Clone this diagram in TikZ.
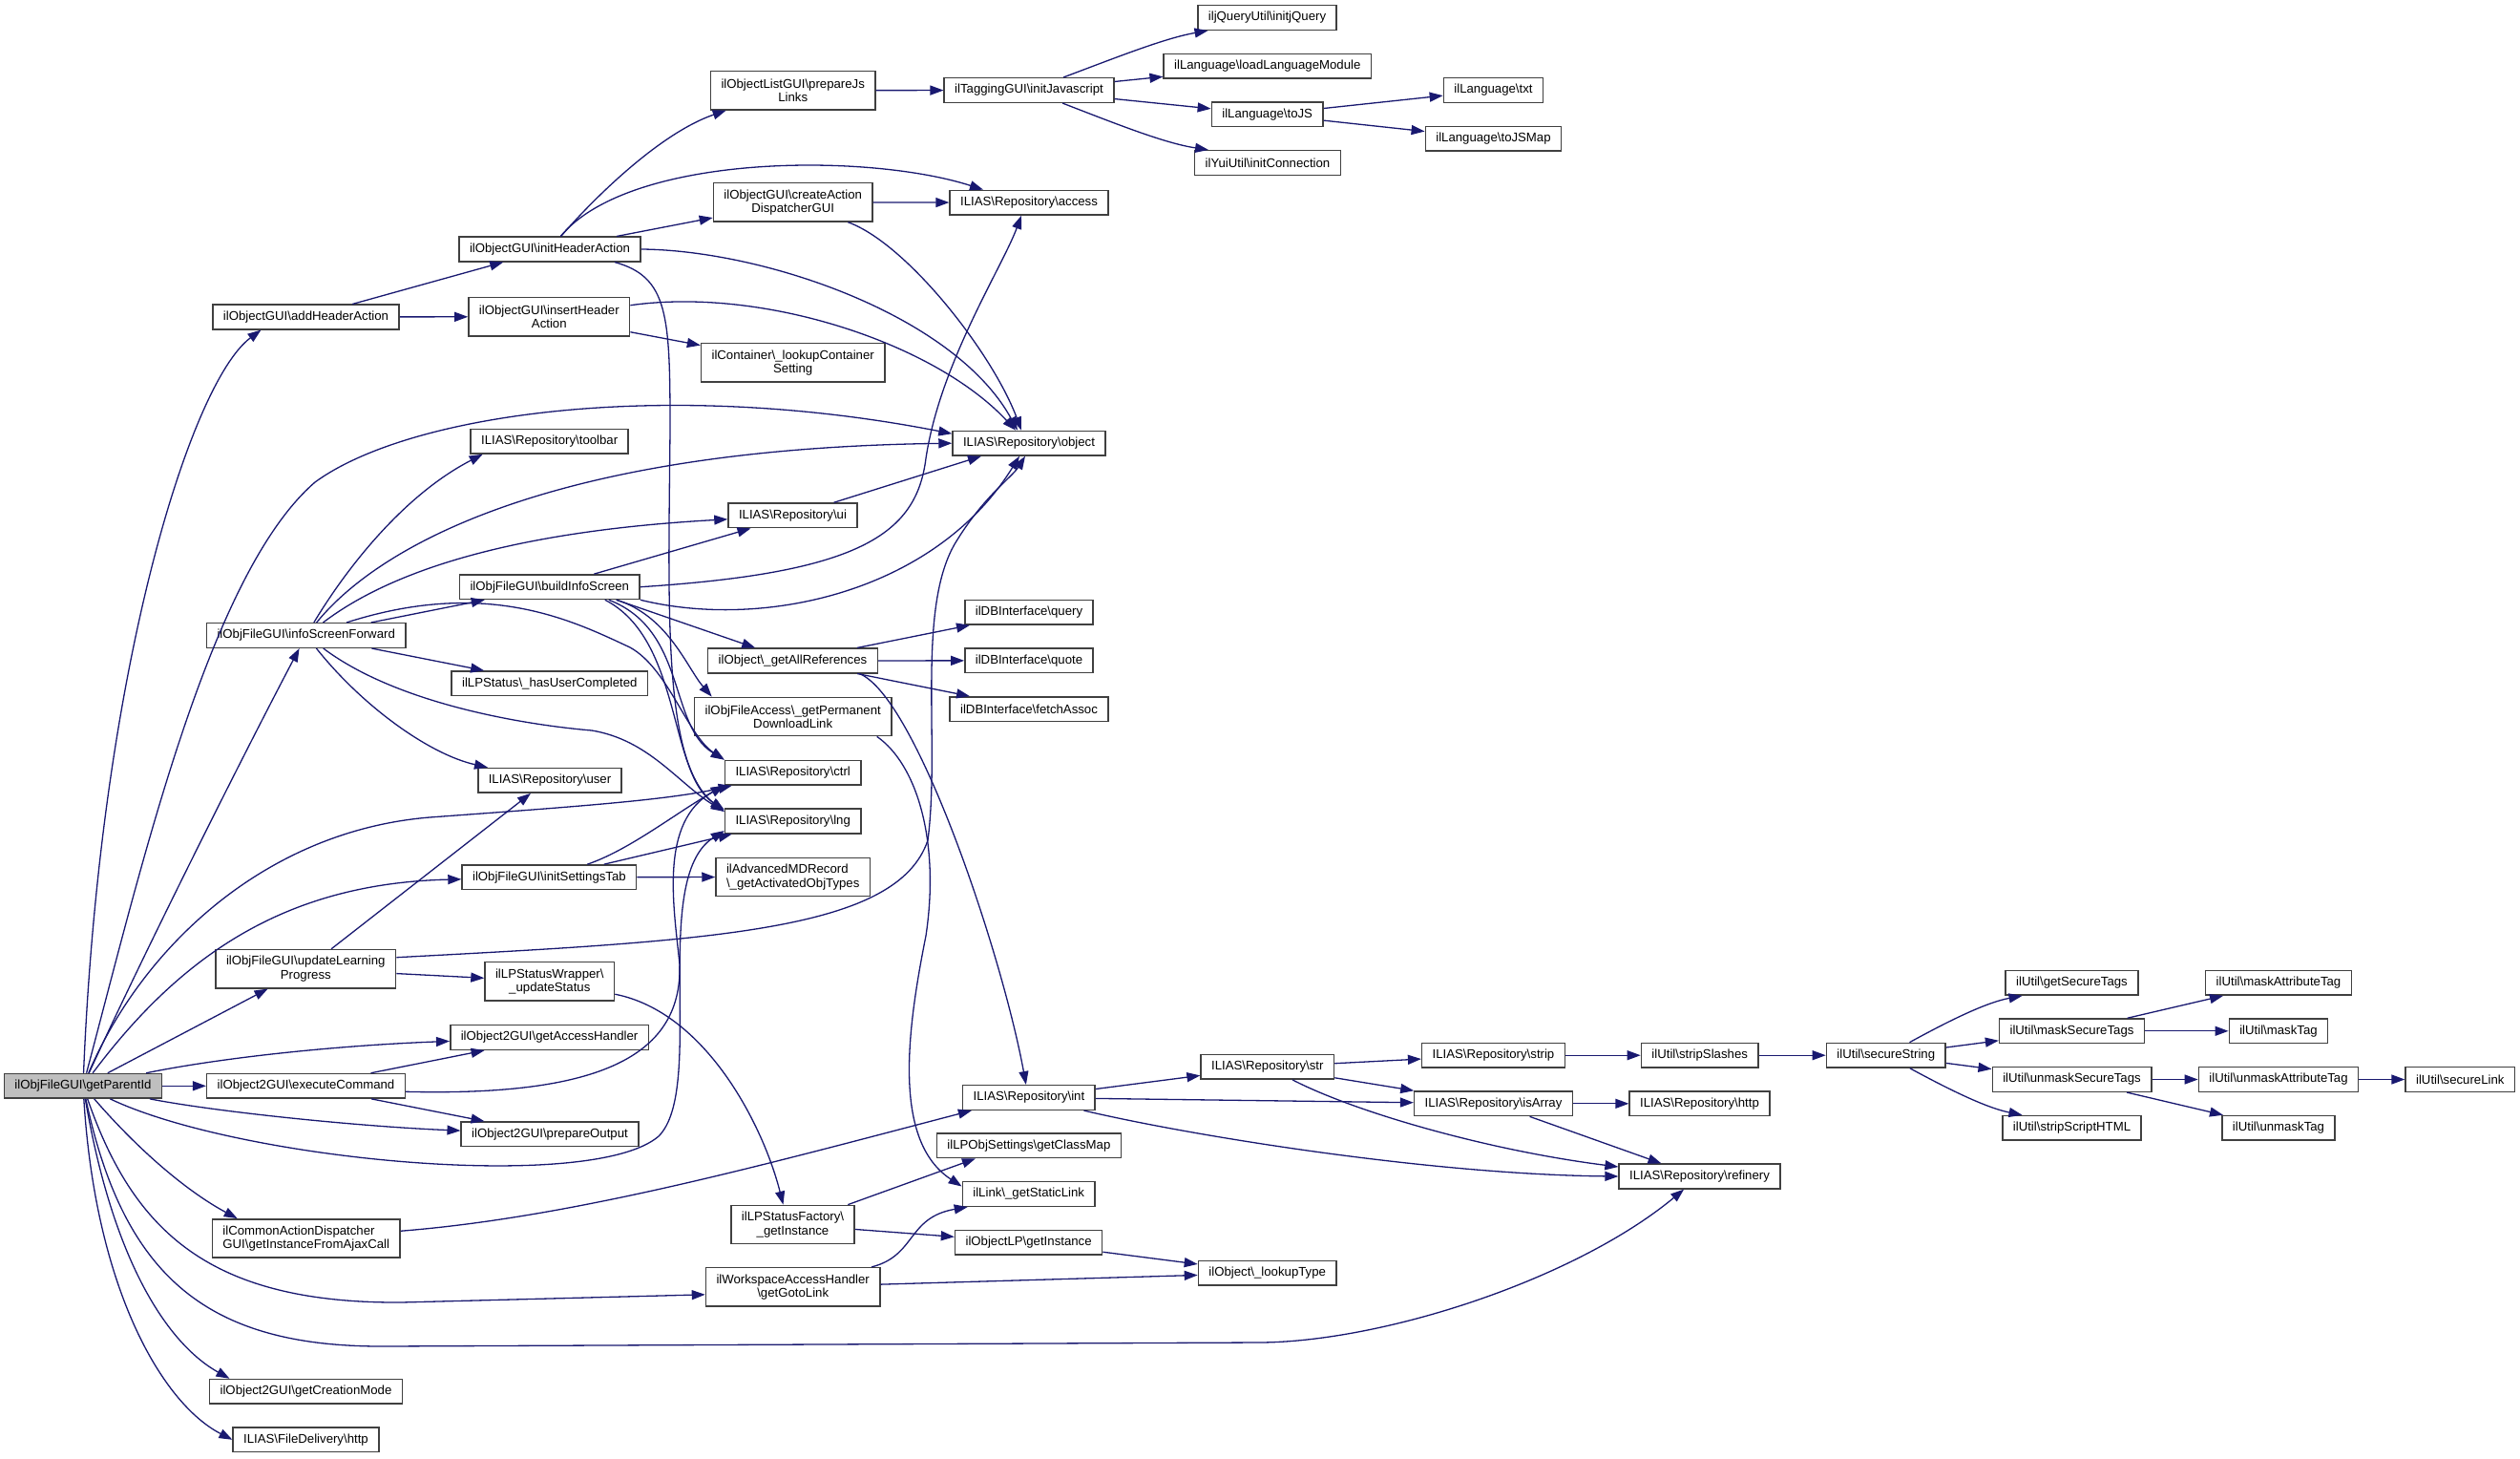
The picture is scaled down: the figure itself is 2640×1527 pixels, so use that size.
\documentclass[tikz,border=0pt]{standalone}
\usepackage{fontspec}
\setmainfont{Liberation Sans}
\usepackage{xcolor}
\usetikzlibrary{arrows.meta}
\definecolor{edgeblue}{HTML}{191970}
\newcommand{\BS}{\textbackslash}

\begin{document}
\begin{tikzpicture}[x=1pt,y=-1pt,
  fn/.style={draw=black!75,line width=1.5pt,fill=white,inner xsep=11pt,inner ysep=2pt,
    minimum height=25.6pt,align=center,font=\fontsize{13.2}{14.3}\selectfont},
  fn2/.style={fn,minimum height=40.3pt},
  root/.style={fn,fill=black!25},
  calls/.style={draw=edgeblue,line width=1.3pt,-{Triangle[length=14pt,width=10pt]}}]
		\useasboundingbox (0,0) rectangle (2640,1527);
		% ROOT
		\node[root] (pid) at (87,1137.3) {ilObjFileGUI\BS{}getParentId};
		% FIRST COLUMN
		\node[fn] (addh) at (320.5,332) {ilObjectGUI\BS{}addHeaderAction};
		\node[fn] (isf) at (320.7,665.5) {ilObjFileGUI\BS{}infoScreenForward};
		\node[fn2] (ulp) at (320.3,1014.7) {ilObjFileGUI\BS{}updateLearning\\Progress};
		\node[fn] (exc) at (320.5,1137.3) {ilObject2GUI\BS{}executeCommand};
		\node[fn2,align=left] (cad) at (320.7,1297) {ilCommonActionDispatcher\\GUI\BS{}getInstanceFromAjaxCall};
		\node[fn] (gcm) at (320.5,1457.3) {ilObject2GUI\BS{}getCreationMode};
		\node[fn] (fdh) at (320.5,1507.8) {ILIAS\BS{}FileDelivery\BS{}http};
		% SECOND COLUMN
		\node[fn] (inith) at (576,261) {ilObjectGUI\BS{}initHeaderAction};
		\node[fn2] (insh) at (575.3,331.7) {ilObjectGUI\BS{}insertHeader\\Action};
		\node[fn] (tbar) at (575.7,462.2) {ILIAS\BS{}Repository\BS{}toolbar};
		\node[fn] (bis) at (575.8,614.7) {ilObjFileGUI\BS{}buildInfoScreen};
		\node[fn] (huc) at (575.8,715.8) {ilLPStatus\BS\_hasUserCompleted};
		\node[fn] (user) at (576,817.3) {ILIAS\BS{}Repository\BS{}user};
		\node[fn] (ist) at (575.4,918.7) {ilObjFileGUI\BS{}initSettingsTab};
		\node[fn2] (ups) at (575.8,1027.8) {ilLPStatusWrapper\BS\\\_updateStatus};
		\node[fn] (gah) at (575.6,1086.5) {ilObject2GUI\BS{}getAccessHandler};
		\node[fn] (pout) at (576,1187.8) {ilObject2GUI\BS{}prepareOutput};
		% THIRD COLUMN
		\node[fn2] (pjl) at (830.7,94.7) {ilObjectListGUI\BS{}prepareJs\\Links};
		\node[fn2] (cadg) at (830.7,211.8) {ilObjectGUI\BS{}createAction\\DispatcherGUI};
		\node[fn2] (lcs) at (830.7,379.8) {ilContainer\BS\_lookupContainer\\Setting};
		\node[fn] (ui) at (830.5,539.8) {ILIAS\BS{}Repository\BS{}ui};
		\node[fn] (gar) at (830.5,692) {ilObject\BS\_getAllReferences};
		\node[fn2] (gpdl) at (830.7,750.5) {ilObjFileAccess\BS\_getPermanent\\DownloadLink};
		\node[fn] (ctrl) at (830.7,809.2) {ILIAS\BS{}Repository\BS{}ctrl};
		\node[fn] (lng) at (830.7,860) {ILIAS\BS{}Repository\BS{}lng};
		\node[fn2,align=left] (gaot) at (830.7,918.5) {ilAdvancedMDRecord\\\BS\_getActivatedObjTypes};
		\node[fn2] (lpsf) at (830.5,1282.5) {ilLPStatusFactory\BS\\\_getInstance};
		\node[fn2] (ggl) at (830.7,1347.8) {ilWorkspaceAccessHandler\\\BS{}getGotoLink};
		% FOURTH COLUMN
		\node[fn] (ijs) at (1078,94.5) {ilTaggingGUI\BS{}initJavascript};
		\node[fn] (acc) at (1078,212.2) {ILIAS\BS{}Repository\BS{}access};
		\node[fn] (obj) at (1078,464.2) {ILIAS\BS{}Repository\BS{}object};
		\node[fn] (dbq) at (1078,641.2) {ilDBInterface\BS{}query};
		\node[fn] (dbqt) at (1078,691.8) {ilDBInterface\BS{}quote};
		\node[fn] (dbfa) at (1078,742.7) {ilDBInterface\BS{}fetchAssoc};
		\node[fn] (int) at (1077.9,1149.5) {ILIAS\BS{}Repository\BS{}int};
		\node[fn] (gcmap) at (1077.9,1199.8) {ilLPObjSettings\BS{}getClassMap};
		\node[fn] (gsl) at (1077.7,1250.5) {ilLink\BS\_getStaticLink};
		\node[fn] (olp) at (1077.6,1301.2) {ilObjectLP\BS{}getInstance};
		% FIFTH COLUMN
		\node[fn] (jq) at (1327.5,18.5) {iljQueryUtil\BS{}initjQuery};
		\node[fn] (llm) at (1327.8,69.3) {ilLanguage\BS{}loadLanguageModule};
		\node[fn] (tojs) at (1327.7,119.8) {ilLanguage\BS{}toJS};
		\node[fn] (yui) at (1328,170.5) {ilYuiUtil\BS{}initConnection};
		\node[fn] (str) at (1327.8,1117.3) {ILIAS\BS{}Repository\BS{}str};
		\node[fn] (lkt) at (1327.7,1333.3) {ilObject\BS\_lookupType};
		% REST TO THE RIGHT
		\node[fn] (txt) at (1564.5,94.5) {ilLanguage\BS{}txt};
		\node[fn] (tojsm) at (1564.5,145.3) {ilLanguage\BS{}toJSMap};
		\node[fn] (strip) at (1564.5,1105.2) {ILIAS\BS{}Repository\BS{}strip};
		\node[fn] (isarr) at (1564.5,1155.8) {ILIAS\BS{}Repository\BS{}isArray};
		\node[fn] (sslash) at (1780.7,1105.2) {ilUtil\BS{}stripSlashes};
		\node[fn] (rhttp) at (1780.5,1155.8) {ILIAS\BS{}Repository\BS{}http};
		\node[fn] (ref) at (1780.5,1232) {ILIAS\BS{}Repository\BS{}refinery};
		\node[fn] (sstr) at (1975.8,1105.2) {ilUtil\BS{}secureString};
		\node[fn] (gst) at (2170.5,1029.3) {ilUtil\BS{}getSecureTags};
		\node[fn] (mst) at (2170.5,1079.8) {ilUtil\BS{}maskSecureTags};
		\node[fn] (ust) at (2170.5,1130.5) {ilUtil\BS{}unmaskSecureTags};
		\node[fn] (ssh) at (2170.5,1181.3) {ilUtil\BS{}stripScriptHTML};
		\node[fn] (mat) at (2387,1029.3) {ilUtil\BS{}maskAttributeTag};
		\node[fn] (mtag) at (2387,1079.8) {ilUtil\BS{}maskTag};
		\node[fn] (uat) at (2387,1130.5) {ilUtil\BS{}unmaskAttributeTag};
		\node[fn] (utag) at (2387,1181.3) {ilUtil\BS{}unmaskTag};
		\node[fn] (slink) at (2577.3,1130.5) {ilUtil\BS{}secureLink};

		% CALLS OF THE ROOT
		\draw[calls] (pid) .. controls (105,700) and (200,400) .. ([xshift=-47]addh.south);
		\draw[calls] (pid) .. controls (150,900) and (220,600) .. (330,505) .. controls (430,432) and (700,396) .. ([yshift=10]obj.west);
		\draw[calls] (pid) .. controls (150,1000) and (250,800) .. (isf);
		\draw[calls] (pid) .. controls (150,990) and (280,870) .. (450,856) .. controls (600,845) and (700,838) .. ([xshift=-64]ctrl.south);
		\draw[calls] (pid) .. controls (190,1000) and (300,925) .. (ist);
		\draw[calls] (pid) -- (ulp);
		\draw[calls] (pid) .. controls (230,1108) and (350,1095) .. (gah);
		\draw[calls] (pid) -- (exc);
		\draw[calls] (pid) .. controls (230,1165) and (380,1180) .. (pout);
		\draw[calls] (pid) .. controls (250,1215) and (620,1250) .. (690,1190) .. controls (740,1140) and (680,920) .. ([yshift=-10]lng.west);
		\draw[calls] (pid) .. controls (150,1210) and (200,1250) .. ([xshift=-72]cad.north);
		\draw[calls] (pid) .. controls (140,1290) and (220,1365) .. (420,1364) -- ([yshift=-8]ggl.west);
		\draw[calls] (pid) .. controls (130,1340) and (220,1410) .. (400,1410) -- (1320,1406) .. controls (1450,1405) and (1650,1340) .. (ref);
		\draw[calls] (pid) .. controls (120,1330) and (180,1410) .. ([xshift=-80]gcm.north);
		\draw[calls] (pid) .. controls (100,1350) and (170,1470) .. (fdh.west);

		% FIRST COLUMN CALLS
		\draw[calls] (addh) -- (inith);
		\draw[calls] (addh) -- (insh);
		\draw[calls] (isf) .. controls (360,600) and (420,520) .. ([xshift=-70]tbar.south);
		\draw[calls] (isf) .. controls (390,580) and (560,470) .. (obj.west);
		\draw[calls] (isf) .. controls (420,590) and (560,555) .. ([yshift=-4]ui.west);
		\draw[calls] (isf) -- (bis);
		\draw[calls] (isf) .. controls (510,605) and (600,650) .. (660,678) .. controls (700,700) and (720,770) .. (ctrl.north west);
		\draw[calls] (isf) -- (huc);
		\draw[calls] (isf) .. controls (380,740) and (450,790) .. ([xshift=-65]user.north);
		\draw[calls] (isf) .. controls (420,740) and (560,760) .. (620,765) .. controls (680,775) and (710,820) .. ([yshift=10]lng.west);
		\draw[calls] (ulp) -- ([xshift=-20]user.south);
		\draw[calls] ([yshift=12]ulp.east) .. controls (750,985) and (940,975) .. (972,880) .. controls (985,780) and (960,640) .. (1000,570) .. controls (1030,520) and (1060,500) .. ([xshift=-4]obj.south);
		\draw[calls] (ulp) -- (ups);
		\draw[calls] (exc) -- (gah);
		\draw[calls] (exc) -- (pout);
		\draw[calls] ([yshift=-6]exc.east) .. controls (620,1148) and (715,1110) .. (712,1010) .. controls (706,950) and (690,860) .. (ctrl.south west);
		\draw[calls] (cad) .. controls (600,1275) and (800,1220) .. ([xshift=-60]int.south);

		% SECOND COLUMN CALLS
		\draw[calls] (inith) .. controls (620,210) and (690,140) .. ([xshift=-70]pjl.south);
		\draw[calls] (inith) .. controls (660,160) and (910,160) .. ([xshift=-48]acc.north);
		\draw[calls] (inith) -- (cadg);
		\draw[calls] (inith.east) .. controls (800,262) and (1000,330) .. ([xshift=-12]obj.north);
		\draw[calls] ([xshift=68]inith.south) .. controls (700,290) and (702,330) .. (702,450) .. controls (700,650) and (695,800) .. ([yshift=10]lng.west);
		\draw[calls] (insh) .. controls (800,300) and (980,360) .. ([xshift=-14]obj.north);
		\draw[calls] (insh) -- (lcs);
		\draw[calls] (bis) -- ([xshift=-44]ui.south);
		\draw[calls] (bis.east) .. controls (900,600) and (960,560) .. (970,480) .. controls (985,380) and (1050,280) .. ([xshift=-8]acc.south);
		\draw[calls] (bis.south east) .. controls (800,660) and (980,620) .. ([xshift=-10]obj.south);
		\draw[calls] ([xshift=70]bis.south) -- (gar);
		\draw[calls] ([xshift=70]bis.south) .. controls (700,645) and (720,700) .. ([xshift=-85]gpdl.north);
		\draw[calls] ([xshift=62]bis.south) .. controls (720,660) and (700,760) .. (ctrl.north west);
		\draw[calls] ([xshift=58]bis.south) .. controls (715,670) and (700,810) .. ([yshift=12]lng.west);
		\draw[calls] (ist) .. controls (660,890) and (710,850) .. (ctrl.south west);
		\draw[calls] (ist) -- ([xshift=-64]lng.south);
		\draw[calls] (ist) -- (gaot);
		\draw[calls] (ups) .. controls (740,1060) and (800,1180) .. ([xshift=-10]lpsf.north);

		% THIRD COLUMN CALLS
		\draw[calls] (pjl) -- (ijs);
		\draw[calls] (cadg) -- (acc);
		\draw[calls] (cadg) .. controls (950,255) and (1040,370) .. ([xshift=-8]obj.north);
		\draw[calls] (ui) -- ([xshift=-50]obj.south);
		\draw[calls] (gar) -- ([xshift=-62]dbq.south);
		\draw[calls] (gar) -- (dbqt);
		\draw[calls] (gar) -- ([xshift=-62]dbfa.north);
		\draw[calls] ([xshift=70]gar.south) .. controls (960,730) and (1050,1000) .. ([xshift=-3]int.north);
		\draw[calls] ([xshift=88]gpdl.south) .. controls (960,800) and (985,880) .. (970,980) .. controls (950,1080) and (935,1195) .. ([yshift=8]gsl.west);
		\draw[calls] (lpsf) -- ([xshift=-56]gcmap.south);
		\draw[calls] (lpsf) -- (olp);
		\draw[calls] (ggl) .. controls (960,1315) and (950,1275) .. ([xshift=-64]gsl.south);
		\draw[calls] (ggl) -- (lkt);

		% FURTHER CALLS
		\draw[calls] (ijs) .. controls (1170,60) and (1220,40) .. ([xshift=-62]jq.south);
		\draw[calls] (ijs) -- (llm);
		\draw[calls] (ijs) -- (tojs);
		\draw[calls] (ijs) .. controls (1170,130) and (1220,150) .. ([xshift=-62]yui.north);
		\draw[calls] (tojs) -- (txt);
		\draw[calls] (tojs) -- (tojsm);
		\draw[calls] (int) -- (str);
		\draw[calls] (int) -- (isarr);
		\draw[calls] (int) .. controls (1250,1190) and (1500,1230) .. (ref.west);
		\draw[calls] (olp) -- (lkt);
		\draw[calls] (str) -- (strip);
		\draw[calls] (str) -- (isarr);
		\draw[calls] (str) .. controls (1420,1165) and (1560,1205) .. ([yshift=10]ref.west);
		\draw[calls] (strip) -- (sslash);
		\draw[calls] (isarr) -- (rhttp);
		\draw[calls] (isarr) -- ([xshift=-40]ref.north);
		\draw[calls] (sslash) -- (sstr);
		\draw[calls] (sstr) .. controls (2040,1070) and (2080,1050) .. ([xshift=-52]gst.south);
		\draw[calls] (sstr) -- (mst);
		\draw[calls] (sstr) -- (ust);
		\draw[calls] (sstr) .. controls (2040,1140) and (2080,1160) .. ([xshift=-52]ssh.north);
		\draw[calls] (mst) -- ([xshift=-58]mat.south);
		\draw[calls] (mst) -- (mtag);
		\draw[calls] (ust) -- (uat);
		\draw[calls] (ust) -- ([xshift=-58]utag.north);
		\draw[calls] (uat) -- (slink);
\end{tikzpicture}
\end{document}
